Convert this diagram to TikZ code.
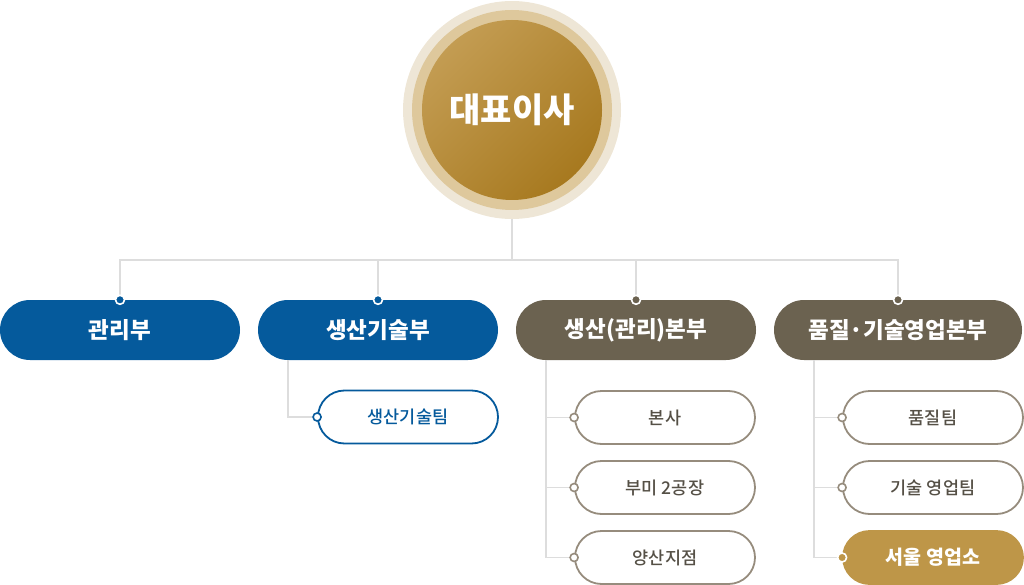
\documentclass[tikz,border=0pt]{standalone}
\usepackage{fontspec}
\setmainfont{Noto Sans CJK KR}
\newfontfamily\medfont{Noto Sans CJK KR Medium}
\usetikzlibrary{shapes.misc}
\definecolor{ringout}{HTML}{EEE6D6}
\definecolor{ringmid}{HTML}{DEC89C}
\definecolor{goldlt}{HTML}{C39C52}
\definecolor{golddk}{HTML}{A7791F}
\definecolor{deptblue}{HTML}{055A9C}
\definecolor{deptbrown}{HTML}{6B6250}
\definecolor{deptgold}{HTML}{BE9648}
\definecolor{teamgray}{HTML}{968C7D}
\definecolor{teamtext}{HTML}{555046}
\definecolor{linegray}{HTML}{DDDDDD}

\begin{document}
\begin{tikzpicture}[x=1pt,y=-1pt,
		dept/.style={rounded rectangle, minimum width=240pt, minimum height=60pt, inner sep=0pt,
			text=white, font=\bfseries\fontsize{22.5}{26}\selectfont},
		team/.style={rounded rectangle, minimum width=180pt, minimum height=53pt, inner sep=0pt,
			draw=teamgray, line width=1.8pt, fill=white, text=teamtext, font=\medfont\fontsize{17.5}{20}\selectfont},
		link/.style={draw=linegray, line width=1.5pt},
		dot/.style={line width=1.6pt}]
		\useasboundingbox (0,0) rectangle (1024,585);
		% representative
		\fill [ringout] (512,110) circle (109);
		\fill [ringmid] (512,110) circle (100);
		\shade [top color=goldlt, bottom color=golddk, shading angle=45] (512,110) circle (90);
		\node [circle, minimum size=218pt, text=white, font=\bfseries\fontsize{34}{40}\selectfont] (ceo) at (512,110) {대표이사};
		% departments
		\node [dept, fill=deptblue] (d1) at (120,330) {관리부};
		\node [dept, fill=deptblue] (d2) at (378,330) {생산기술부};
		\node [dept, fill=deptbrown] (d3) at (636,330) {생산(관리)본부};
		\node [dept, fill=deptbrown, minimum width=248pt] (d4) at (898,330) {품질·기술영업본부};
		% teams
		\node [team, draw=deptblue, text=deptblue] (t1) at (408,417) {생산기술팀};
		\node [team] (t2) at (665,417.5) {본사};
		\node [team] (t3) at (665,487.5) {부미 2공장};
		\node [team] (t4) at (665,557.5) {양산지점};
		\node [team] (t5) at (933,417.5) {품질팀};
		\node [team] (t6) at (933,487.5) {기술 영업팀};
		\node [team, draw=deptgold, fill=deptgold, text=white, font=\bfseries\fontsize{19.5}{22}\selectfont] (t7) at (933,557.5) {서울 영업소};
		% lines
		\coordinate (hub) at (512,260);
		\draw [link] (ceo.south) -- (hub);
		\foreach \n in {d1,d2,d3,d4}
			\draw [link] (hub) -| (\n.north);
		\coordinate (b2) at (d2.south west);
		\coordinate (b3) at (d3.south west);
		\coordinate (b4) at ([xshift=10pt]d4.south west);
		\draw [link] (b2) |- (t1.west);
		\draw [link] (b3) |- (t4.west);
		\draw [link] (b3 |- t2.west) -- (t2.west);
		\draw [link] (b3 |- t3.west) -- (t3.west);
		\draw [link] (b4) |- (t7.west);
		\draw [link] (b4 |- t5.west) -- (t5.west);
		\draw [link] (b4 |- t6.west) -- (t6.west);
		% dots
		\draw [dot, draw=white, fill=deptblue] (d1.north) circle (4.5);
		\draw [dot, draw=white, fill=deptblue] (d2.north) circle (4.5);
		\draw [dot, draw=white, fill=deptbrown] (d3.north) circle (4.5);
		\draw [dot, draw=white, fill=deptbrown] (d4.north) circle (4.5);
		\draw [dot, draw=deptblue, fill=white] (t1.west) circle (4);
		\foreach \n in {t2,t3,t4,t5,t6}
			\draw [dot, draw=teamgray, fill=white] (\n.west) circle (4);
		\draw [dot, draw=white, fill=deptgold] (t7.west) circle (4.5);
\end{tikzpicture}
\end{document}
